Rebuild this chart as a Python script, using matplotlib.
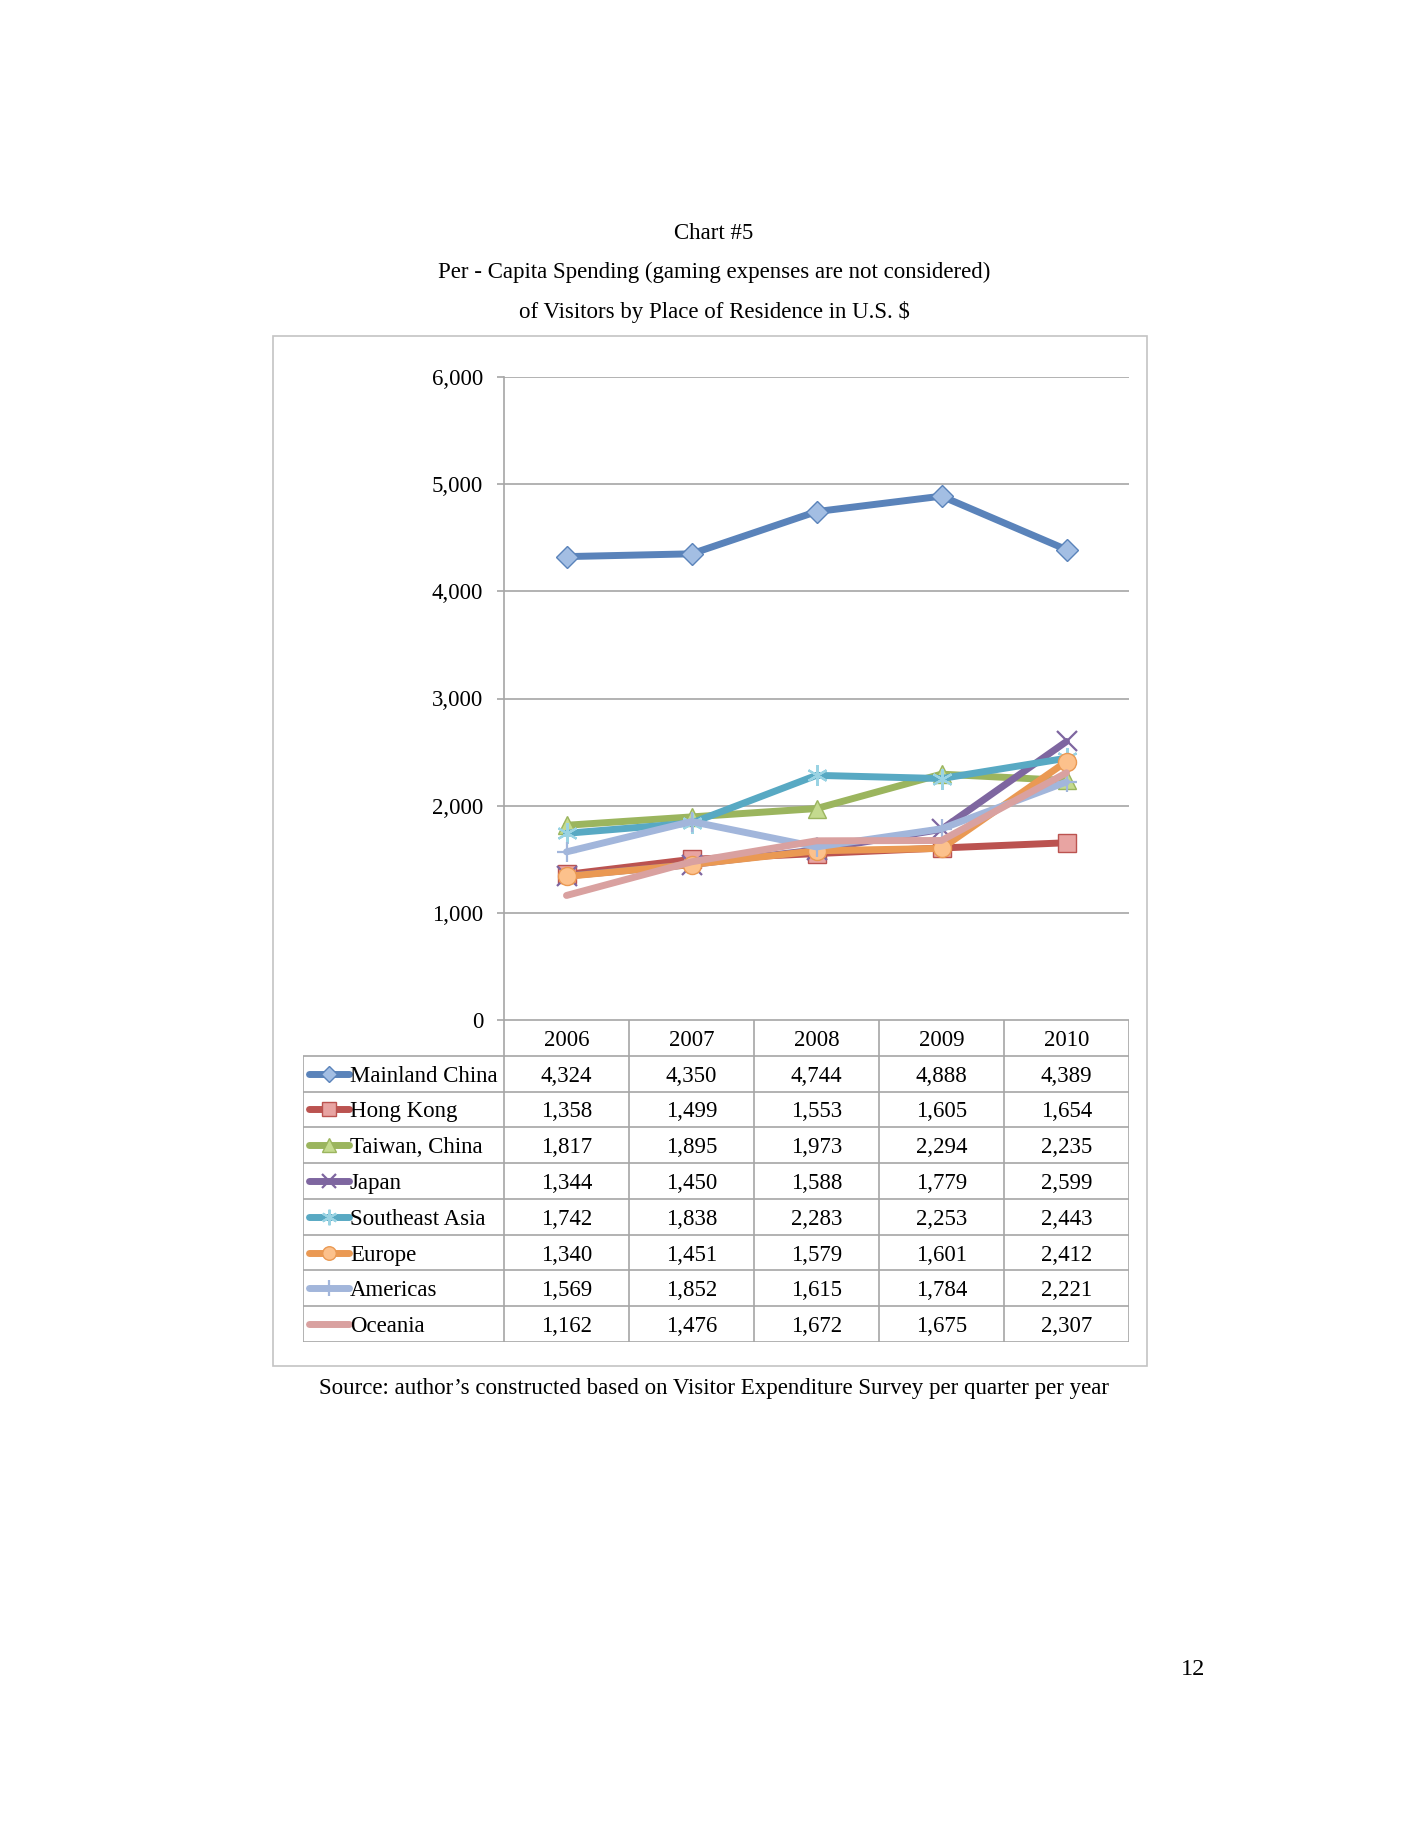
import matplotlib
matplotlib.use('Agg')
import matplotlib.pyplot as plt
from matplotlib.patches import Rectangle
from matplotlib.ticker import FuncFormatter

# ---------------- data ----------------
years = ['2006', '2007', '2008', '2009', '2010']
regions = ['Mainland China', 'Hong Kong', 'Taiwan, China', 'Japan',
           'Southeast Asia', 'Europe', 'Americas', 'Oceania']
mainland_china = [4324, 4350, 4744, 4888, 4389]
hong_kong = [1358, 1499, 1553, 1605, 1654]
taiwan_china = [1817, 1895, 1973, 2294, 2235]
japan = [1344, 1450, 1588, 1779, 2599]
southeast_asia = [1742, 1838, 2283, 2253, 2443]
europe = [1340, 1451, 1579, 1601, 2412]
americas = [1569, 1852, 1615, 1784, 2221]
oceania = [1162, 1476, 1672, 1675, 2307]
series = [mainland_china, hong_kong, taiwan_china, japan,
          southeast_asia, europe, americas, oceania]
y_ticks = [0, 1000, 2000, 3000, 4000, 5000, 6000]

title_lines = ['Chart #5',
               'Per - Capita Spending (gaming expenses are not considered)',
               'of Visitors by Place of Residence in U.S. $']
source_text = 'Source: author\u2019s constructed based on Visitor Expenditure Survey per quarter per year'
page_number = '12'

# ---------------- styles ----------------
colors = ['#5A83BA', '#BB5350', '#9BB55E', '#7E66A0',
          '#58A9C3', '#EA9953', '#A2B6DB', '#D9A1A0']
light = ['#A3BEE3', '#E8A4A2', '#C4DA8E', '#B09BCB',
         '#9AD3E3', '#FCC18C', '#C9D6EC', '#EBC2C1']
markers = ['D', 's', '^', 'x', '*', 'o', '+', None]
msizes = [11, 13, 13, 14, 15, 13, 15, 0]

plt.rcParams['font.family'] = ['Liberation Serif', 'DejaVu Serif']
FS = 16.5
GRID = '#A6A6A6'
LW = 5

W, H = 1422, 1836
fig = plt.figure(figsize=(W / 100, H / 100), dpi=100)
fig.patch.set_facecolor('white')


def fx(px):
    return px / W


def fy(py):
    return 1 - py / H


# outer frame
fig.patches.append(Rectangle((fx(273), fy(1366)), (1147 - 273) / W, (1366 - 336) / H,
                             transform=fig.transFigure, fill=False,
                             edgecolor='#C4C4C4', lw=1.2))

# titles
for i, t in enumerate(title_lines):
    fig.text(fx(714), fy(233.5 + 39.3 * i), t, ha='center', va='center', fontsize=FS)
fig.text(fx(714), fy(1388.5), source_text, ha='center', va='center', fontsize=FS)
fig.text(fx(1193), fy(1669.5), page_number, ha='center', va='center', fontsize=17.5)

# ---------------- plot ----------------
left, right, top, bottom = 504, 1129, 377, 1020
ax = fig.add_axes([fx(left), fy(bottom), (right - left) / W, (bottom - top) / H])
n = len(years)
xs = [i + 0.5 for i in range(n)]
ax.set_xlim(0, n)
ax.set_ylim(0, 6000)
ax.set_yticks(y_ticks)
ax.yaxis.set_major_formatter(FuncFormatter(lambda v, p: f'{int(v):,}'))
ax.set_xticks([])
ax.yaxis.grid(True, color=GRID, lw=1.2)
ax.set_axisbelow(True)
for s in ['top', 'right', 'bottom']:
    ax.spines[s].set_visible(False)
ax.spines['left'].set_color(GRID)
ax.spines['left'].set_linewidth(1.2)
ax.tick_params(axis='y', length=5, width=1.2, color=GRID, pad=10, labelsize=FS)


def draw_marker(a, x, y, k, scale=1.0, z=3):
    m = markers[k]
    if not m:
        return
    ms = msizes[k] * scale
    if m in ('x', '+'):
        a.plot(x, y, ls='none', marker=m, ms=ms, mew=1.6, color=colors[k], zorder=z)
    elif m == '*':
        a.plot(x, y, ls='none', marker=(6, 2, 0), ms=ms, mew=1.6,
               color=light[k], mec=light[k], zorder=z)
    else:
        a.plot(x, y, ls='none', marker=m, ms=ms, mfc=light[k],
               mec=colors[k], mew=1.0, zorder=z)


for k, vals in enumerate(series):
    ax.plot(xs, vals, color=colors[k], lw=LW, solid_capstyle='round',
            solid_joinstyle='round', zorder=3 + k)
    draw_marker(ax, xs, vals, k, 1.0, 3 + k)

# ---------------- data table ----------------
tleft, tbottom = 303, 1342
colw = (right - left) / n
xmin = -(left - tleft) / colw
tax = fig.add_axes([fx(tleft), fy(tbottom), (right - tleft) / W, (tbottom - bottom) / H])
nrows = len(regions) + 1
tax.set_xlim(xmin, n)
tax.set_ylim(nrows, 0)
tax.axis('off')

tax.hlines(0, 0, n, color=GRID, lw=1.2)
for r in range(1, nrows + 1):
    tax.hlines(r, xmin, n, color=GRID, lw=1.2)
for c in range(n + 1):
    tax.vlines(c, 0, nrows, color=GRID, lw=1.2)
tax.vlines(xmin, 1, nrows, color=GRID, lw=1.2)

for i, y in enumerate(years):
    tax.text(i + 0.5, 0.58, y, ha='center', va='center', fontsize=FS)

lx0 = xmin + 6 / colw
lx1 = xmin + 46 / colw
for k, name in enumerate(regions):
    yc = k + 1.5
    tax.plot([lx0, lx1], [yc, yc], color=colors[k], lw=LW, solid_capstyle='round')
    draw_marker(tax, [(lx0 + lx1) / 2], [yc], k, 0.75, 3)
    tax.text(lx1 + 1 / colw, yc + 0.07, name, ha='left', va='center', fontsize=FS)
    for i, v in enumerate(series[k]):
        tax.text(i + 0.5, yc + 0.07, f'{v:,}', ha='center', va='center', fontsize=FS)

fig.savefig('out.png', dpi=100, facecolor='white')
